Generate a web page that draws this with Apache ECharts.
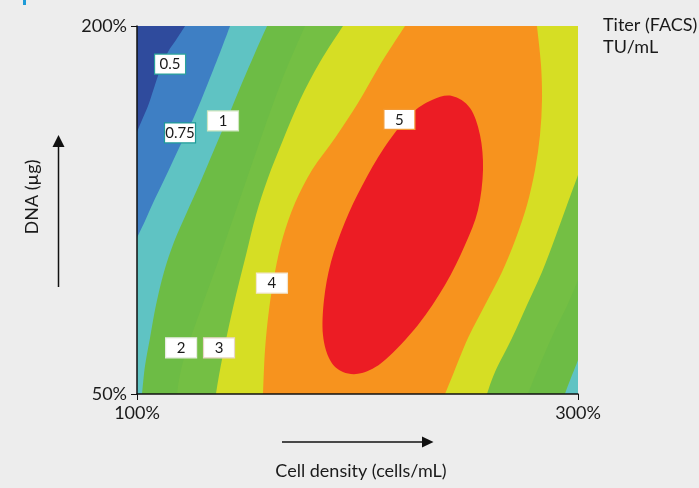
<!DOCTYPE html>
<html>
<head>
<meta charset="utf-8">
<script src="https://cdn.jsdelivr.net/npm/echarts@6/dist/echarts.min.js"></script>
<style>
  html, body { margin: 0; padding: 0; background: #ededed; }
  #chart { width: 699px; height: 488px; }
</style>
</head>
<body>
<div id="chart"></div>
<script>
// Axis ranges (percent of standard condition)
const xRange = [100, 300];   // Cell density
const yRange = [50, 200];    // DNA
const xTicks = [100, 300];
const yTicks = [50, 200];

// Contour lines of titer, as [cell density %, DNA %] points.
// Open lines run from one plot edge to another; "Left" and "Right" are the two branches.
const contour05 = [[123.2, 203], [121.77, 200], [117.69, 194.29], [114.06, 189.4], [110.43, 182.07], [107.71, 174.73], [104.99, 167.39], [102.27, 161.69], [100, 156.79], [98.5, 153]];
const contour075 = [[143.3, 203], [142.18, 200], [138.09, 190.22], [132.2, 176.77], [125.85, 162.91], [119.05, 150.27], [112.7, 138.04], [107.26, 127.85], [103.63, 120.52], [100, 113.59], [98.5, 110]];
const contour1Left = [[160.4, 203], [158.96, 200], [153.51, 188.99], [147.62, 176.77], [141.27, 162.91], [134.92, 149.46], [128.57, 136.01], [122.68, 124.19], [116.78, 111.96], [112.24, 99.73], [108.62, 86.28], [105.9, 72.83], [103.63, 61.41], [102.27, 50], [101.8, 46]];
const contour1Right = [[293, 46], [294.1, 50], [297.3, 57.7], [300, 63.9], [302, 70]];
const contour2Left = [[177.6, 203], [176.19, 200], [165.76, 177.99], [156.69, 155.57], [148.07, 133.15], [139.46, 110.73], [131.29, 90.35], [124.04, 72.01], [119.95, 59.78], [118.14, 50], [117.7, 46]];
const contour2Right = [[276, 46], [277.3, 50], [283.2, 63], [289.6, 76.1], [295, 85.87], [300, 96.5], [302, 101]];
const contour3Left = [[195.5, 203], [193.42, 200], [182.99, 185.33], [173.92, 169.84], [166.21, 153.53], [159.41, 138.04], [153.97, 122.96], [149.43, 106.66], [144.9, 90.35], [140.82, 74.05], [137.64, 59.78], [135.83, 50], [135.3, 46]];
const contour3Right = [[257.5, 46], [258.73, 50], [262.36, 58.97], [270.07, 72.83], [276.87, 86.28], [283.67, 99.73], [289.57, 113.59], [295.01, 127.04], [300, 139.27], [302, 145]];
const contour4Left = [[223.2, 202.4], [221.54, 200], [210.2, 184.1], [200.23, 168.61], [189.8, 154.35], [179.37, 141.3], [171.65, 127.85], [166.21, 113.99], [162.58, 99.73], [159.86, 84.24], [158.05, 67.93], [157.14, 50], [157, 46]];
const contour4Right = [[237.87, 45.9], [239.68, 50], [243.76, 58.97], [250.11, 72.83], [257.82, 86.28], [265.53, 99.73], [271.88, 113.59], [276.87, 127.04], [280.5, 141.3], [282.77, 155.57], [283.67, 169.84], [283.22, 184.1], [281.4, 200], [281.04, 203.3]];
const contour5 = [[242.86, 171.47], [251.02, 166.58], [255.56, 155.57], [256.92, 141.3], [254.65, 125], [248.75, 110.73], [239.68, 94.43], [227.44, 78.13], [212.47, 63.86], [202.04, 58.56], [193.42, 58.97], [187.53, 63.86], [184.35, 74.05], [184.8, 88.32], [187.98, 103.8], [194.33, 120.11], [202.04, 134.78], [212.02, 150.27], [223.81, 163.72], [233.79, 169.84]];

// Titer levels (TU/mL) and the fill of the band above each level
const levels = [0, 0.5, 0.75, 1, 2, 3, 4, 5];
const bandColors = ['#2f4b9d', '#3e7fc4', '#5fc3c3', '#6dbc45', '#74bf44', '#d6de24', '#f7931e', '#ec1c24'];

// Contour labels: text and anchor point on the line
const labelTexts = ['0.5', '0.75', '1', '2', '3', '4', '5'];
const labelX = [115, 119.5, 139, 120, 137.2, 161.2, 219];
const labelY = [184.5, 156.4, 161.3, 68.8, 68.8, 95.2, 161.9];
const labelBorders = ['#2aa39b', '#1e9c98', '#cfe6c0', '#e6ecdf', '#e8d6c8', '#f2e6d0', '#f39a35'];

// Regions with titer >= level: contour branches, then corner points that close them off-plot
const pad = 25;
const BL = [xRange[0] - pad, yRange[0] - pad];
const BR = [xRange[1] + pad, yRange[0] - pad];
const TR = [xRange[1] + pad, yRange[1] + pad];
const TL = [xRange[0] - pad, yRange[1] + pad];
const regions = [
  { branches: [], corners: [BL, BR, TR, TL] },
  { branches: [contour05], corners: [BL, BR, TR] },
  { branches: [contour075], corners: [BL, BR, TR] },
  { branches: [contour1Left, contour1Right], corners: [TR] },
  { branches: [contour2Left, contour2Right], corners: [TR] },
  { branches: [contour3Left, contour3Right], corners: [TR] },
  { branches: [contour4Left, contour4Right], corners: [] },
  { branches: [contour5], corners: [], closed: true }
];

// Smooth curve through pixel points (Catmull-Rom as cubic Beziers)
function curveThrough(pts, closed) {
  const n = pts.length;
  const at = i => closed ? pts[(i + n) % n] : pts[Math.max(0, Math.min(n - 1, i))];
  let d = '';
  const segs = closed ? n : n - 1;
  for (let i = 0; i < segs; i++) {
    const p0 = at(i - 1), p1 = at(i), p2 = at(i + 1), p3 = at(i + 2);
    const c1 = [p1[0] + (p2[0] - p0[0]) / 6, p1[1] + (p2[1] - p0[1]) / 6];
    const c2 = [p2[0] - (p3[0] - p1[0]) / 6, p2[1] - (p3[1] - p1[1]) / 6];
    d += ' C' + c1[0] + ',' + c1[1] + ' ' + c2[0] + ',' + c2[1] + ' ' + p2[0] + ',' + p2[1];
  }
  return d;
}

function renderRegion(params, api) {
  const r = regions[params.dataIndex];
  let d = '';
  let started = false;
  r.branches.forEach(br => {
    const px = br.map(p => api.coord(p));
    d += (started ? ' L' : ' M') + px[0][0] + ',' + px[0][1];
    started = true;
    d += curveThrough(px, !!r.closed);
  });
  r.corners.forEach(c => {
    const p = api.coord(c);
    d += (started ? ' L' : ' M') + p[0] + ',' + p[1];
    started = true;
  });
  d += ' Z';
  return {
    type: 'path',
    z2: params.dataIndex,
    shape: { pathData: d },
    style: { fill: bandColors[params.dataIndex], stroke: null }
  };
}

function renderLabel(params, api) {
  const i = params.dataIndex;
  const p = api.coord([labelX[i], labelY[i]]);
  const w = 31, h = 20;
  return {
    type: 'group',
    children: [
      {
        type: 'rect',
        shape: { x: p[0] - w / 2, y: p[1] - h / 2, width: w, height: h },
        style: { fill: '#ffffff', stroke: labelBorders[i], lineWidth: 1.2 }
      },
      {
        type: 'text',
        x: p[0], y: p[1] + 0.5,
        style: {
          text: labelTexts[i], fill: '#1a1a1a',
          font: '15px Lato, "Open Sans", sans-serif',
          align: 'center', verticalAlign: 'middle'
        }
      }
    ]
  };
}

const chart = echarts.init(document.getElementById('chart'), null, { renderer: 'canvas' });
const textFont = '18px Lato, "Open Sans", sans-serif';
const axisFont = { color: '#1a1a1a', fontSize: 18, fontFamily: 'Lato, "Open Sans", sans-serif' };

chart.setOption({
  backgroundColor: '#ededed',
  animation: false,
  grid: { left: 137, right: 121, top: 26, bottom: 94 },
  xAxis: {
    type: 'value', min: xRange[0], max: xRange[1], z: 10,
    axisLine: { show: true, onZero: false, lineStyle: { color: '#111', width: 1.5 } },
    axisTick: { show: true, length: 6, customValues: xTicks, lineStyle: { color: '#111' } },
    axisLabel: Object.assign({ customValues: xTicks, margin: 10, formatter: v => v + '%' }, axisFont),
    splitLine: { show: false }
  },
  yAxis: {
    type: 'value', min: yRange[0], max: yRange[1], z: 10,
    axisLine: { show: true, onZero: false, lineStyle: { color: '#111', width: 1.5 } },
    axisTick: { show: true, length: 6, customValues: yTicks, lineStyle: { color: '#111' } },
    axisLabel: Object.assign({ customValues: yTicks, margin: 10, formatter: v => v + '%' }, axisFont),
    splitLine: { show: false }
  },
  series: [
    {
      type: 'custom',
      clip: true,
      silent: true,
      renderItem: renderRegion,
      data: levels.map(lv => [xRange[0], yRange[0], lv]),
      encode: { x: 0, y: 1 },
      z: 2
    },
    {
      type: 'custom',
      silent: true,
      renderItem: renderLabel,
      data: labelTexts.map((t, i) => [labelX[i], labelY[i]]),
      encode: { x: 0, y: 1 },
      z: 5
    }
  ],
  graphic: [
    { type: 'rect', left: 23, top: 0, shape: { width: 3, height: 5 }, style: { fill: '#1e9bd7' } },
    {
      type: 'text', x: 32, y: 197, rotation: Math.PI / 2,
      style: { text: 'DNA (µg)', fill: '#1a1a1a', font: textFont, align: 'center', verticalAlign: 'middle' }
    },
    { type: 'line', shape: { x1: 58.5, y1: 287, x2: 58.5, y2: 145 }, style: { stroke: '#111', lineWidth: 1.5 } },
    { type: 'polygon', shape: { points: [[52.5, 147], [64.5, 147], [58.5, 135]] }, style: { fill: '#111' } },
    { type: 'line', shape: { x1: 282, y1: 442, x2: 425, y2: 442 }, style: { stroke: '#111', lineWidth: 1.5 } },
    { type: 'polygon', shape: { points: [[422, 436.5], [422, 447.5], [433.5, 442]] }, style: { fill: '#111' } },
    {
      type: 'text', x: 361, y: 471,
      style: { text: 'Cell density (cells/mL)', fill: '#1a1a1a', font: textFont, align: 'center', verticalAlign: 'middle' }
    },
    {
      type: 'text', x: 603, y: 25,
      style: { text: 'Titer (FACS)', fill: '#1a1a1a', font: textFont, align: 'left', verticalAlign: 'middle' }
    },
    {
      type: 'text', x: 603, y: 47,
      style: { text: 'TU/mL', fill: '#1a1a1a', font: textFont, align: 'left', verticalAlign: 'middle' }
    }
  ]
});
</script>
</body>
</html>
